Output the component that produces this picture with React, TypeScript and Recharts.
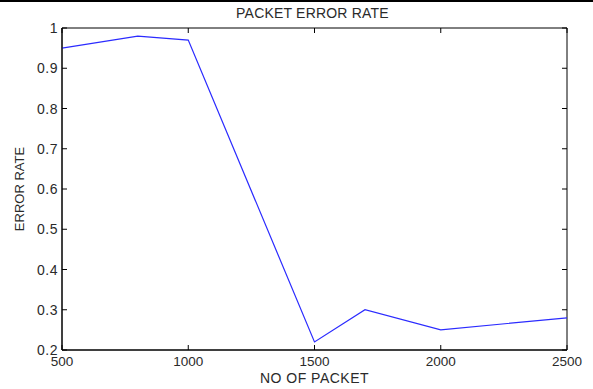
import { LineChart, Line, XAxis, YAxis, ReferenceArea } from 'recharts';

const packets = [500, 800, 1000, 1500, 1700, 2000, 2500];
const errorRate = [0.95, 0.98, 0.97, 0.22, 0.3, 0.25, 0.28];
const xTicks = [500, 1000, 1500, 2000, 2500];
const yTicks = [0.2, 0.3, 0.4, 0.5, 0.6, 0.7, 0.8, 0.9, 1];
const xDomain = [500, 2500];
const yDomain = [0.2, 1];

const data = packets.map((p, i) => ({ packets: p, rate: errorRate[i] }));

const W = 593;
const H = 389;
const PLOT_LEFT = 62;
const PLOT_RIGHT = 567;
const PLOT_TOP = 28;
const PLOT_BOTTOM = 350;
const TICK = 5;
const FONT = 'Liberation Sans, Arial, sans-serif';
const TEXT = '#2a2a2a';

function YTick(props: any) {
  const { x, y, payload } = props;
  return (
    <g>
      <line x1={PLOT_LEFT} x2={PLOT_LEFT + TICK} y1={y} y2={y} stroke="#000" />
      <line x1={PLOT_RIGHT} x2={PLOT_RIGHT - TICK} y1={y} y2={y} stroke="#000" />
      <text x={x} y={y} dy="0.36em" textAnchor="end" fontSize={14} letterSpacing={0.5} fontFamily={FONT} fill={TEXT}>
        {String(payload.value)}
      </text>
    </g>
  );
}

function XTick(props: any) {
  const { x, y, payload } = props;
  return (
    <g>
      <line x1={x} x2={x} y1={PLOT_BOTTOM} y2={PLOT_BOTTOM - TICK} stroke="#000" />
      <line x1={x} x2={x} y1={PLOT_TOP} y2={PLOT_TOP + TICK} stroke="#000" />
      <text x={x} y={y} dy="0.71em" textAnchor="middle" fontSize={13.5} fontFamily={FONT} fill={TEXT}>
        {String(payload.value)}
      </text>
    </g>
  );
}

export default function App() {
  return (
    <div style={{ position: 'absolute', left: 0, top: 0, width: W, height: H, background: '#fff' }}>
      <div style={{ position: 'absolute', left: 0, top: 0, width: W, height: 2, background: '#000' }} />
      <LineChart
        width={W}
        height={H}
        data={data}
        margin={{ top: PLOT_TOP, right: W - PLOT_RIGHT, bottom: 11, left: PLOT_LEFT - 40 }}
      >
        <XAxis
          dataKey="packets"
          type="number"
          domain={xDomain}
          ticks={xTicks}
          tickLine={false}
          tickSize={0}
          tickMargin={6}
          height={28}
          axisLine={{ stroke: '#000' }}
          tick={<XTick />}
          interval={0}
          label={{
            content: (p: any) => {
              const cx = p.viewBox.x + p.viewBox.width / 2;
              return (
                <g>
                  <text
                    x={cx}
                    y={383}
                    textAnchor="middle"
                    fontSize={14}
                    letterSpacing={0.5}
                    fontFamily={FONT}
                    fill={TEXT}
                  >
                    NO OF PACKET
                  </text>
                  <text
                    x={cx - 2}
                    y={18}
                    textAnchor="middle"
                    fontSize={14}
                    letterSpacing={0.2}
                    fontFamily={FONT}
                    fill={TEXT}
                  >
                    PACKET ERROR RATE
                  </text>
                </g>
              );
            },
          }}
        />
        <YAxis
          type="number"
          domain={yDomain}
          ticks={yTicks}
          tickLine={false}
          tickSize={0}
          tickMargin={4}
          width={40}
          axisLine={{ stroke: '#000' }}
          tick={<YTick />}
          interval={0}
          label={{
            content: (p: any) => {
              const cx = 19;
              const cy = p.viewBox.y + p.viewBox.height / 2;
              return (
                <text
                  x={cx}
                  y={cy}
                  transform={`rotate(-90 ${cx} ${cy})`}
                  dy="0.36em"
                  textAnchor="middle"
                  fontSize={13}
                  fontFamily={FONT}
                  fill={TEXT}
                >
                  ERROR RATE
                </text>
              );
            },
          }}
        />
        <ReferenceArea
          x1={xDomain[0]}
          x2={xDomain[1]}
          y1={yDomain[0]}
          y2={yDomain[1]}
          fill="none"
          stroke="#000"
          ifOverflow="visible"
        />
        <Line
          dataKey="rate"
          type="linear"
          stroke="#2b2bff"
          strokeWidth={1.2}
          dot={false}
          isAnimationActive={false}
        />
      </LineChart>
    </div>
  );
}
